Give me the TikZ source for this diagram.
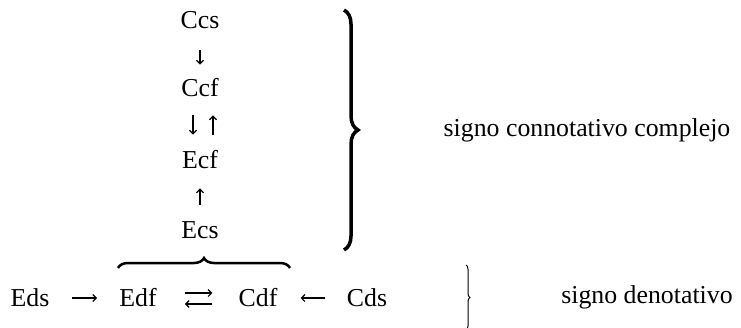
\documentclass[tikz,border=0pt]{standalone}
\usepackage{fontspec}
\setmainfont{Liberation Serif}
\usetikzlibrary{arrows.meta,decorations.pathreplacing}
\begin{document}
\begin{tikzpicture}[x=1pt,y=-1pt,
  term/.style={inner sep=0pt,font=\fontsize{25.8}{30}\selectfont},
  link/.style={line width=1.2pt,-{Straight Barb[length=3.5pt,width=7pt,line width=1.2pt]}},
  bigbrace/.style={decorate,decoration={brace,amplitude=#1}}]
\useasboundingbox (0,0) rectangle (741,327);
% connotative column
\node[term] (Ccs) at (200,20) {Ccs};
\node[term] (Ccf) at (200,88) {Ccf};
\node[term] (Ecf) at (200,160) {Ecf};
\node[term] (Ecs) at (200,230) {Ecs};
% denotative row
\node[term] (Eds) at (30,298) {Eds};
\node[term] (Edf) at (138,298) {Edf};
\node[term] (Cdf) at (258,298) {Cdf};
\node[term] (Cds) at (367,298) {Cds};
% labels
\node[term] (conn) at (587,130) {signo connotativo complejo};
\node[term] (deno) at (647,297) {signo denotativo};
% vertical arrows
\draw[link,shorten <=21pt,shorten >=14pt] (Ccs.south) -- (Ccf.north);
\draw[link,shorten <=18pt,shorten >=16pt] ([xshift=-7pt]Ccf.south) -- ([xshift=-7pt]Ecf.north);
\draw[link,shorten <=16pt,shorten >=18pt] ([xshift=13pt]Ecf.north) -- ([xshift=13pt]Ccf.south);
\draw[link,shorten <=16pt,shorten >=19pt] (Ecs.north) -- (Ecf.south);
% horizontal arrows
\draw[link,shorten <=22pt,shorten >=22pt] (Eds.east) -- (Edf.west);
\draw[link,shorten <=28pt,shorten >=26pt] ([yshift=5pt]Edf.east) -- ([yshift=5pt]Cdf.west);
\draw[link,shorten <=26pt,shorten >=28pt] ([yshift=-6pt]Cdf.west) -- ([yshift=-6pt]Edf.east);
\draw[link,shorten <=22pt,shorten >=23pt] (Cds.west) -- (Cdf.east);
% braces
\coordinate (bt) at (344,10);
\coordinate (bb) at (344,250);
\draw[line width=3.5pt,bigbrace=14pt] (bt) -- (bb);
\coordinate (hl) at (118,268);
\coordinate (hr) at (290,268);
\draw[line width=2.5pt,bigbrace=10pt] (hl) -- (hr);
\coordinate (st) at (466,265);
\coordinate (sb) at (466,330);
\draw[line width=1pt,bigbrace=4pt] (st) -- (sb);
\end{tikzpicture}
\end{document}
